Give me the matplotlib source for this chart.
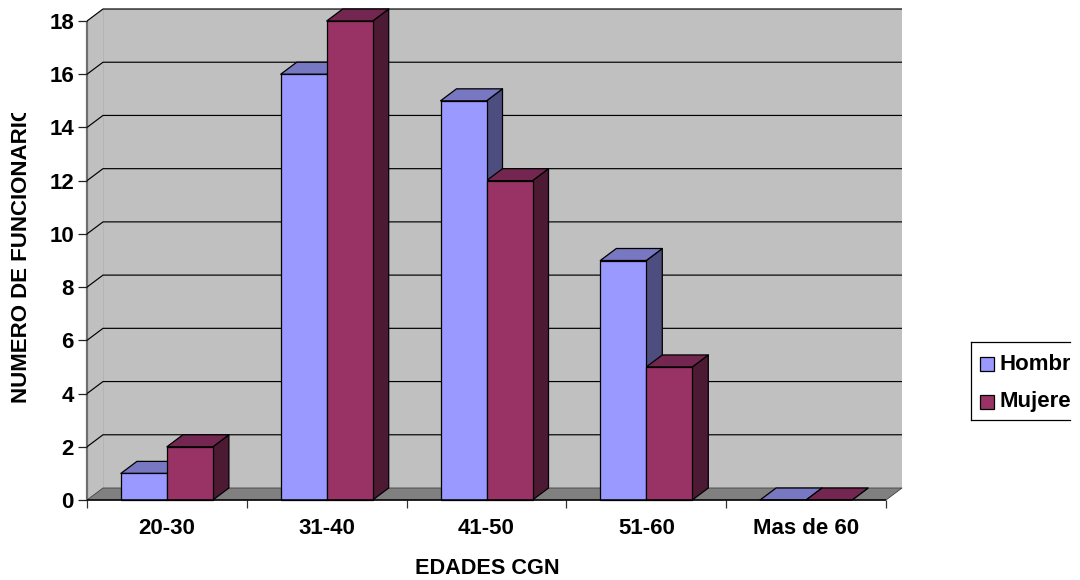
import matplotlib
matplotlib.use('Agg')
import matplotlib.pyplot as plt
from matplotlib.patches import Polygon, Rectangle
from matplotlib.transforms import Bbox

categories = ['20-30', '31-40', '41-50', '51-60', 'Mas de 60']
hombres = [1, 16, 15, 9, 0]
mujeres = [2, 18, 12, 5, 0]
yticks = list(range(0, 20, 2))
series = [('Hombres', hombres, '#9999FF', '#7777C2', '#4D4D80', -1),
          ('Mujeres', mujeres, '#993366', '#732650', '#4D1A33', 0)]

W, H = 1080, 580
plt.rcParams['font.family'] = ['Liberation Sans', 'DejaVu Sans']
plt.rcParams['font.weight'] = 'bold'
fig = plt.figure(figsize=(W / 100, H / 100), dpi=100, facecolor='white')
L, R, T, B = 87, 886, 21, 500
ax = fig.add_axes([L / W, 1 - B / H, (R - L) / W, (B - T) / H])
n = len(categories)
ax.set_xlim(0, n)
ax.set_ylim(0, 18)
ax.axis('off')
dx = 16 / ((R - L) / n)
dy = 12 / ((B - T) / 18)
bw = 46 / ((R - L) / n)
top = yticks[-1]

def poly(pts, fc, ec='none', lw=0, z=1):
    ax.add_patch(Polygon(pts, closed=True, fc=fc, ec=ec, lw=lw, zorder=z,
                         clip_on=False, joinstyle='round'))

def line(xs, ys, c='black', lw=0.85, z=2):
    ax.plot(xs, ys, color=c, lw=lw, zorder=z, clip_on=False, solid_capstyle='butt')

# walls and floor
poly([(dx, dy), (n + dx, dy), (n + dx, top + dy), (dx, top + dy)], '#C0C0C0')
poly([(0, 0), (dx, dy), (dx, top + dy), (0, top)], '#C0C0C0')
poly([(0, 0), (n, 0), (n + dx, dy), (dx, dy)], '#808080', ec='#404040', lw=0.6, z=1.5)
line([0, 0], [0, top], c='#6E6E6E', lw=1.6)
line([dx, dx], [dy, top + dy], c='#B4B4B4', lw=0.7, z=1.2)
for t in yticks[1:]:
    line([0, dx, n + dx], [t, t + dy, t + dy])
# axes lines and ticks
line([0, n], [0, 0], lw=1.1, z=5)
tick_y = 8 / ((B - T) / 18)
for i in range(n + 1):
    line([i, i], [0, -tick_y], c='#333333', lw=0.9)
for t in yticks:
    line([-9 / ((R - L) / n), 0], [t, t], c='#222222', lw=0.9)
    ax.text(-13 / ((R - L) / n), t, str(t), ha='right', va='center_baseline', fontsize=16)

# bars, drawn from the back wall forward group by group
for i in range(n):
    c = i + 0.5
    for name, vals, front, topc, side, off in series:
        v = vals[i]
        x0 = c + off * bw
        x1 = x0 + bw
        poly([(x1, 0), (x1 + dx, dy), (x1 + dx, v + dy), (x1, v)], side, ec='black', lw=0.9, z=3)
        poly([(x0, v), (x1, v), (x1 + dx, v + dy), (x0 + dx, v + dy)], topc, ec='black', lw=0.9, z=3)
        if v > 0:
            poly([(x0, 0), (x1, 0), (x1, v), (x0, v)], front, ec='black', lw=0.9, z=4)
    ax.text(c, -28 / ((B - T) / 18), categories[i], ha='center', va='center', fontsize=16, zorder=6)

fig.text(487 / W, 1 - 568 / H, 'EDADES CGN', ha='center', va='center', fontsize=15.6)
# y title is cut off at its upper end, as in the reference
yl = fig.text(21.5 / W, 1 - 403 / H, 'NUMERO DE FUNCIONARIOS', rotation=90, ha='center',
              va='bottom', fontsize=16, clip_on=True)
yl.set_clip_box(Bbox([[0, H - 420], [45, H - 113]]))

# legend, cut off on the right
lg = fig.add_axes([971 / W, 1 - 420 / H, 99 / W, 78 / H])
lg.set_xlim(971, 1070)
lg.set_ylim(420, 342)
lg.set_xticks([])
lg.set_yticks([])
lg.spines['right'].set_visible(False)
for s in ('left', 'top', 'bottom'):
    lg.spines[s].set_linewidth(0.9)
for (name, vals, front, *_), yc in zip(series, (364, 402)):
    lg.add_patch(Rectangle((980, yc - 7), 14, 14, fc=front, ec='black', lw=0.9))
    lg.text(1000, yc, name, ha='left', va='center', fontsize=16, clip_on=True)

fig.savefig('out.png', dpi=100, facecolor='white')
